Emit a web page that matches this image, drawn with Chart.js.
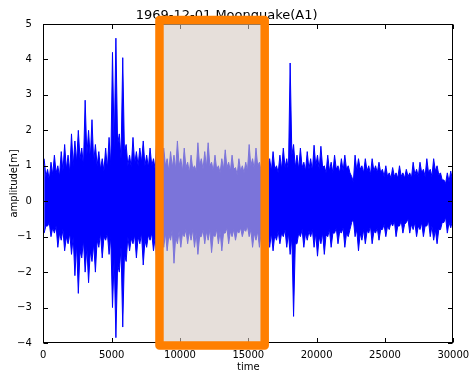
<!DOCTYPE html>
<html><head><meta charset="utf-8">
<script src="https://cdn.jsdelivr.net/npm/chart.js@4"></script>
<style>html,body{margin:0;padding:0;background:#fff;overflow:hidden}#wrap{width:472px;height:371px}</style>
</head><body><div id="wrap"><canvas id="c" width="472" height="371"></canvas></div>
<script>
const titleText = '1969-12-01 Moonquake(A1)';
const xLabel = 'time';
const yLabel = 'amplitude[m]';
const xTicks = [0, 5000, 10000, 15000, 20000, 25000, 30000];
const yTicks = [-4, -3, -2, -1, 0, 1, 2, 3, 4, 5];
const binWidth = 250;
// per 250-unit bin: spike tops / bottoms of the trace
const peakHigh = [
 1.2,0.9,1.1,1.3,1.0,1.4,1.6,1.3,1.9,1.7,
 2.0,1.5,2.85,2.0,2.3,1.6,1.4,1.2,1.5,1.8,
 4.2,4.6,1.9,4.05,1.6,1.3,1.8,1.4,1.5,1.7,
 1.3,1.5,1.2,1.8,1.3,1.5,1.2,1.4,1.3,1.7,
 1.2,1.5,1.1,1.3,1.0,1.65,1.2,1.4,1.65,1.1,
 1.3,1.0,1.2,1.45,1.1,1.3,0.95,1.2,1.0,1.1,
 1.6,1.2,1.5,1.1,1.3,1.75,1.2,1.4,1.0,1.3,
 1.5,1.2,3.9,1.6,1.3,1.5,1.1,1.4,1.2,1.58,
 1.3,1.55,1.0,1.3,1.1,1.3,1.0,1.2,1.3,1.0,
 0.7,1.3,1.2,1.0,1.2,1.0,1.2,1.0,1.1,0.9,
 1.0,0.8,0.95,0.8,1.0,0.8,0.9,0.8,1.1,0.9,
 1.1,0.9,1.2,0.9,1.2,1.0,0.8,0.6,0.8,0.85
];
const peakLow = [
 -0.9,-0.7,-1.0,-0.9,-1.3,-1.1,-1.4,-1.2,-1.5,-2.1,
 -2.6,-1.6,-2.0,-2.3,-1.7,-2.0,-1.3,-1.6,-1.1,-1.5,
 -3.0,-3.85,-2.0,-3.55,-1.7,-1.4,-1.2,-1.6,-1.2,-1.8,
 -1.3,-1.1,-1.4,-1.7,-1.2,-1.3,-1.4,-1.1,-1.75,-1.2,
 -1.3,-1.0,-1.2,-1.1,-1.3,-1.5,-1.0,-1.2,-1.1,-1.45,
 -1.0,-1.2,-1.4,-0.9,-1.2,-1.0,-1.1,-0.9,-1.0,-0.85,
 -1.0,-1.3,-1.1,-1.3,-1.0,-1.1,-1.3,-1.4,-1.1,-1.2,
 -1.0,-1.3,-1.5,-3.25,-1.2,-1.0,-1.3,-1.1,-1.0,-1.3,
 -1.55,-1.2,-1.5,-1.0,-1.3,-0.9,-1.2,-0.9,-1.3,-1.0,
 -0.6,-1.0,-1.4,-1.1,-1.2,-0.9,-1.2,-0.9,-1.1,-0.8,
 -1.0,-0.8,-0.7,-1.0,-0.7,-0.9,-0.6,-0.9,-0.8,-1.0,
 -0.8,-1.0,-0.7,-1.0,-1.1,-1.2,-0.8,-0.6,-0.9,-0.75
];
// per bin: edge of the solid core between spikes
const coreHigh = [
 0.7,0.6,0.75,0.8,0.7,0.85,0.9,0.8,
 1.0,1.1,1.2,1.0,1.3,1.2,1.1,1.0,0.9,0.85,0.9,1.0,
 1.5,1.6,1.2,1.4,
 1.0,0.95,1.05,1.0,1.1,1.0,0.95,1.0,0.9,1.0,
 0.9,1.0,0.85,0.95,0.9,1.0,0.85,0.95,0.8,0.9,0.85,1.0,0.9,0.95,1.0,0.85,
 0.9,0.8,0.9,0.95,0.85,0.9,0.75,0.85,0.8,0.85,1.0,0.9,1.0,0.85,0.9,
 1.0,0.85,0.9,0.8,0.9,0.95,0.85,1.3,0.95,0.9,0.95,0.85,0.9,0.85,1.0,
 0.9,0.95,0.8,0.85,0.8,0.9,0.8,0.85,0.9,0.8,
 0.55,0.85,0.9,0.8,0.85,0.75,0.85,0.8,0.8,0.7,0.7,0.65,0.7,0.65,0.7,
 0.65,0.7,0.65,0.75,0.7,0.8,0.7,0.8,0.7,0.85,0.75,0.6,0.5,0.55,0.6
];
const coreLow = [
 -0.7,-0.6,-0.75,-0.7,-0.9,-0.8,-1.0,-0.9,
 -1.0,-1.2,-1.4,-1.1,-1.3,-1.4,-1.2,-1.1,-0.9,-1.0,-0.9,-1.0,
 -1.6,-1.8,-1.3,-1.5,
 -1.0,-1.05,-0.95,-1.0,-0.9,-1.1,-0.95,-0.9,-1.0,-0.95,
 -0.85,-0.9,-0.95,-0.8,-1.0,-0.85,-0.9,-0.8,-0.85,-0.8,-0.9,-1.0,-0.8,-0.85,-0.8,-0.95,
 -0.8,-0.85,-0.9,-0.75,-0.85,-0.8,-0.85,-0.75,-0.8,-0.7,-0.8,-0.9,-0.85,-0.9,-0.8,
 -0.85,-0.9,-0.95,-0.85,-0.9,-0.8,-0.9,-1.0,-1.2,-0.9,-0.8,-0.9,-0.85,-0.8,-0.9,
 -1.0,-0.9,-0.95,-0.8,-0.9,-0.75,-0.85,-0.75,-0.9,-0.8,
 -0.5,-0.8,-0.9,-0.8,-0.85,-0.7,-0.85,-0.75,-0.8,-0.65,-0.7,-0.6,-0.55,-0.7,-0.55,
 -0.65,-0.5,-0.65,-0.6,-0.7,-0.6,-0.7,-0.55,-0.7,-0.8,-0.8,-0.6,-0.45,-0.6,-0.55
];
const spanTime = [8500, 16200];
const spanAmp = [-4.07, 5.11];

const upper = [], lower = [];
peakHigh.forEach((v, i) => {
  const t = i * binWidth;
  upper.push({x: t + binWidth * 0.25, y: v}, {x: t + binWidth * 0.75, y: coreHigh[i]});
  lower.push({x: t + binWidth * 0.25, y: peakLow[i]}, {x: t + binWidth * 0.75, y: coreLow[i]});
});

const FONT = 'DejaVu Sans';
const framePlugin = {
  id: 'frame',
  afterDatasetsDraw(chart) {
    const {ctx, chartArea: a, scales: {x, y}} = chart;
    const L = Math.round(a.left) + 0.5, R = Math.round(a.right) - 0.5;
    const T = Math.round(a.top) + 0.5, B = Math.round(a.bottom) - 0.5;
    const len = 4.5;
    ctx.save();
    ctx.strokeStyle = '#000';
    ctx.lineWidth = 1;
    ctx.beginPath();
    xTicks.forEach(v => {
      const p = Math.round(x.getPixelForValue(v)) + 0.5;
      ctx.moveTo(p, B); ctx.lineTo(p, B - len);
      ctx.moveTo(p, T); ctx.lineTo(p, T + len);
    });
    yTicks.forEach(v => {
      const p = Math.round(y.getPixelForValue(v)) + 0.5;
      ctx.moveTo(L, p); ctx.lineTo(L + len, p);
      ctx.moveTo(R, p); ctx.lineTo(R - len, p);
    });
    ctx.stroke();
    ctx.strokeRect(L, T, R - L, B - T);
    ctx.restore();
  },
  afterDraw(chart) {
    const {ctx, scales: {x, y}} = chart;
    const x0 = x.getPixelForValue(spanTime[0]), x1 = x.getPixelForValue(spanTime[1]);
    const y0 = y.getPixelForValue(spanAmp[1]), y1 = y.getPixelForValue(spanAmp[0]);
    ctx.save();
    ctx.fillStyle = 'rgba(212,200,191,0.58)';
    ctx.fillRect(x0, y0, x1 - x0, y1 - y0);
    ctx.strokeStyle = '#ff7f00';
    ctx.lineWidth = 8.5;
    ctx.lineJoin = 'round';
    ctx.strokeRect(x0, y0, x1 - x0, y1 - y0);
    ctx.restore();
  }
};

new Chart(document.getElementById('c'), {
  type: 'line',
  data: {datasets: [
    {data: upper, borderColor: '#0000ff', backgroundColor: '#0000ff', borderWidth: 1,
     pointRadius: 0, tension: 0, fill: '+1'},
    {data: lower, borderColor: '#0000ff', backgroundColor: '#0000ff', borderWidth: 1,
     pointRadius: 0, tension: 0, fill: false}
  ]},
  options: {
    responsive: false,
    devicePixelRatio: 1,
    animation: false,
    events: [],
    layout: {padding: {left: 0, right: 18.7, top: 0, bottom: 0}},
    plugins: {
      legend: {display: false},
      tooltip: {enabled: false},
      title: {display: true, text: titleText, color: '#000',
        font: {family: FONT, size: 13, weight: 'normal'},
        padding: {top: 8, bottom: 0.4}}
    },
    scales: {
      x: {
        type: 'linear', min: 0, max: 30000,
        grid: {display: false}, border: {display: false},
        afterBuildTicks: s => { s.ticks = xTicks.map(v => ({value: v})); },
        afterFit: s => { s.height = 28; },
        ticks: {color: '#000', font: {family: FONT, size: 10}, padding: -2,
          maxRotation: 0, autoSkip: false, callback: v => String(v)},
        title: {display: true, text: xLabel, color: '#000',
          font: {family: FONT, size: 10}, padding: {top: 0, bottom: -2}}
      },
      y: {
        type: 'linear', min: -4, max: 5,
        grid: {display: false}, border: {display: false},
        afterBuildTicks: s => { s.ticks = yTicks.map(v => ({value: v})); },
        afterFit: s => { s.width = 43.3; },
        ticks: {color: '#000', font: {family: FONT, size: 10}, padding: 3.5,
          autoSkip: false, callback: v => v < 0 ? '\u2212' + Math.abs(v) : String(v)},
        title: {display: true, text: yLabel, color: '#000',
          font: {family: FONT, size: 10}, padding: {top: 8, bottom: 0}}
      }
    }
  },
  plugins: [framePlugin]
});
</script></body></html>
